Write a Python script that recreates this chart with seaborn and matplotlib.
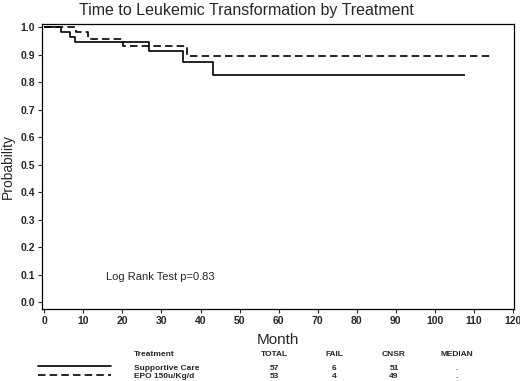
import pandas as pd
import numpy as np
import seaborn as sns
import matplotlib.pyplot as plt
from matplotlib.lines import Line2D

# Kaplan-Meier step points
sc_month = [0, 4.3, 6.5, 7.8, 26.7, 35.6, 43.1, 107.7]
sc_surv = [1.0, 0.982, 0.965, 0.947, 0.913, 0.874, 0.826, 0.826]
epo_month = [0, 8.1, 11.2, 20.1, 36.5, 114.8]
epo_surv = [1.0, 0.981, 0.955, 0.930, 0.895, 0.895]

groups = ['Supportive Care', 'EPO 150u/Kg/d']
totals = [57, 53]
fails = [6, 4]
cnsr = [51, 49]
medians = ['.', '.']

x_ticks = list(range(0, 121, 10))
y_ticks = [round(v * 0.1, 1) for v in range(11)]

df = pd.concat([
    pd.DataFrame({'month': sc_month, 'prob': sc_surv, 'group': groups[0]}),
    pd.DataFrame({'month': epo_month, 'prob': epo_surv, 'group': groups[1]}),
])

sns.set_style('ticks')
plt.rcParams['font.family'] = ['Liberation Sans', 'DejaVu Sans']

fig = plt.figure(figsize=(5.2, 3.81), dpi=100)
ax = fig.add_axes([0.0808, 0.189, 0.9077, 0.748])

sns.lineplot(data=df, x='month', y='prob', hue='group', style='group',
             palette=['black', 'black'], dashes=[(1, 0), (4.5, 2.5)],
             drawstyle='steps-post', linewidth=1.2, legend=False, ax=ax,
             estimator=None, sort=False)

ax.set_xlim(-0.6, 120.3)
ax.set_ylim(-0.025, 1.011)
ax.set_xticks(x_ticks)
ax.set_yticks(y_ticks)
ax.set_yticklabels([f'{v:.1f}' for v in y_ticks])
ax.tick_params(length=3, width=0.8, labelsize=7.5, pad=2)
for lab in ax.get_xticklabels() + ax.get_yticklabels():
    lab.set_fontweight('bold')
for s in ax.spines.values():
    s.set_visible(True)
    s.set_linewidth(0.9)
    s.set_color('black')

ax.set_xlabel('Month', fontsize=11, labelpad=5)
ax.set_ylabel('Probability', fontsize=10, labelpad=4)
ax.text(15.9, 0.09, 'Log Rank Test p=0.83', fontsize=8, va='center')

fig.text(0.473, 0.972, 'Time to Leukemic Transformation by Treatment',
         fontsize=11.5, ha='center', va='center')

# summary table under the plot
def fy(py):
    return 1 - py / 381

def fx(px):
    return px / 520

tkw = dict(fontsize=6, fontweight='bold', va='center')
fig.text(fx(134), fy(355), 'Treatment', ha='left', **tkw)
cols = [('TOTAL', 274, totals), ('FAIL', 334, fails),
        ('CNSR', 394, cnsr), ('MEDIAN', 457, medians)]
for name, px, vals in cols:
    fig.text(fx(px), fy(355), name, ha='center', **tkw)
    for i, v in enumerate(vals):
        fig.text(fx(px), fy(368 + 9 * i), str(v), ha='center', **tkw)
styles = ['-', (0, (4.5, 2.5))]
for i, g in enumerate(groups):
    fig.text(fx(134), fy(368 + 9 * i), g, ha='left', **tkw)
    fig.add_artist(Line2D([fx(38), fx(111)], [fy(366 + 8.5 * i)] * 2,
                          color='black', linewidth=1.2, linestyle=styles[i]))

fig.savefig('out.png', dpi=100)
